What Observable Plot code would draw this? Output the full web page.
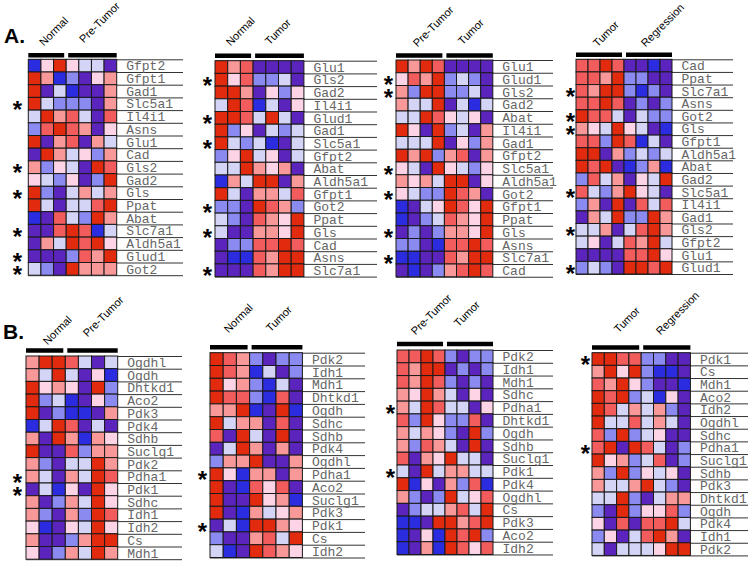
<!DOCTYPE html>
<html><head><meta charset="utf-8">
<script src="https://cdn.jsdelivr.net/npm/d3@7"></script>
<script src="https://cdn.jsdelivr.net/npm/@observablehq/plot@0.6"></script>
<style>
html,body{margin:0;padding:0;background:#fff;}
#fig{position:relative;width:750px;height:561px;overflow:hidden;background:#fff;}
.panel{position:absolute;}
.tag{position:absolute;font:bold 21px "Liberation Sans",Arial,sans-serif;line-height:21px;color:#000;}
</style></head>
<body>
<div id="fig">
  <div class="tag" style="left:4px;top:25px">A.</div>
  <div class="tag" style="left:3px;top:321px">B.</div>
</div>
<script>
// colour levels: -4 blue, -3 purple, -2 periwinkle, -1 lavender, 1 pink, 2 salmon, 3 coral, 4 red
const levels = [-4, -3, -2, -1, 1, 2, 3, 4];
const palette = ["#2b2be0", "#5b25bd", "#8a8af0", "#d4d4f6", "#fcd4e6", "#f99898", "#f25c5c", "#e12a0e"];

// ---------- Panel A1: Normal vs Pre-Tumor ----------
const a1Groups = ["Normal", "Pre-Tumor"];
const a1Split = 3;
const a1Genes = ["Gfpt2","Gfpt1","Gad1","Slc5a1","Il4i1","Asns","Glu1","Cad","Gls2","Gad2","Gls","Ppat","Abat","Slc7a1","Aldh5a1","Glud1","Got2"];
const a1Stars = ["Slc5a1","Gls2","Gls","Slc7a1","Glud1","Got2"];
const a1Values = [
  [-4,1,4,1,-1,-1,-3],
  [4,2,-4,-2,-3,1,2],
  [4,-3,-1,-4,-3,-3,2],
  [4,-1,-2,-2,-2,-3,2],
  [-1,4,2,3,-1,-3,3],
  [-2,3,4,3,2,-3,1],
  [4,-3,2,3,-3,2,-1],
  [-3,4,2,-1,1,-2,2],
  [2,-2,1,-1,-3,4,3],
  [1,-1,-2,1,-3,-2,4],
  [4,-2,-3,-1,2,-1,2],
  [4,-1,-3,-1,-1,3,4],
  [-4,-3,3,-1,-2,4,2],
  [-3,-3,3,4,3,-4,-1],
  [-3,2,-1,4,3,4,1],
  [-3,-3,-3,-2,3,2,4],
  [-1,-2,-3,4,2,2,2]
];

// ---------- Panel A2: Normal vs Tumor ----------
const a2Groups = ["Normal", "Tumor"];
const a2Split = 3;
const a2Genes = ["Glu1","Gls2","Gad2","Il4i1","Glud1","Gad1","Slc5a1","Gfpt2","Abat","Aldh5a1","Gfpt1","Got2","Ppat","Gls","Cad","Asns","Slc7a1"];
const a2Stars = ["Gls2","Glud1","Slc5a1","Got2","Gls","Slc7a1"];
const a2Values = [
  [4,2,3,-3,-3,-3,-3],
  [4,1,3,-2,-2,-1,-3],
  [4,4,2,-3,1,-2,1],
  [-1,4,3,-4,-1,-3,1],
  [4,4,3,-1,4,-1,-3],
  [4,-2,1,-3,-1,-2,-1],
  [4,-1,-2,-1,-4,-3,-1],
  [-2,1,4,-1,1,-3,-1],
  [-1,-1,4,2,1,2,-3],
  [-4,2,-1,4,4,-3,2],
  [4,-1,-3,2,2,-1,3],
  [-2,-2,-3,4,3,2,-2],
  [-1,-2,-3,3,2,1,4],
  [-1,-3,-3,2,2,1,4],
  [-3,-2,-2,3,3,4,3],
  [-3,-4,-4,3,2,4,4],
  [-3,-3,-3,3,2,4,4]
];

// ---------- Panel A3: Pre-Tumor vs Tumor ----------
const a3Groups = ["Pre-Tumor", "Tumor"];
const a3Split = 4;
const a3Genes = ["Glu1","Glud1","Gls2","Gad2","Abat","Il4i1","Gad1","Gfpt2","Slc5a1","Aldh5a1","Got2","Gfpt1","Ppat","Gls","Asns","Slc7a1","Cad"];
const a3Stars = ["Glud1","Gls2","Slc5a1","Got2","Gls","Slc7a1"];
const a3Values = [
  [4,2,4,3,-3,-3,-3,-3],
  [1,3,2,4,-2,-1,-2,-3],
  [2,-2,4,4,-2,-2,-1,-3],
  [2,-1,-1,4,-3,-1,-4,-1],
  [-1,-1,4,3,1,-1,1,-3],
  [4,1,-3,4,-2,-1,-3,2],
  [-1,-1,-1,4,-3,1,-2,2],
  [4,2,4,-2,2,3,-3,2],
  [1,-1,-3,4,1,-1,-2,1],
  [2,1,2,-1,4,4,-3,1],
  [1,-1,-2,-2,4,3,2,-3],
  [-4,-3,-1,1,4,3,1,4],
  [-4,-3,-2,-1,3,2,1,4],
  [-3,-2,-3,-2,2,2,1,4],
  [-2,-2,-3,-4,3,3,4,3],
  [-4,-4,-3,-3,3,2,4,4],
  [-3,-4,-3,-2,2,3,4,3]
];

// ---------- Panel A4: Tumor vs Regression ----------
const a4Groups = ["Tumor", "Regression"];
const a4Split = 4;
const a4Genes = ["Cad","Ppat","Slc7a1","Asns","Got2","Gls","Gfpt1","Aldh5a1","Abat","Gad2","Slc5a1","Il4i1","Gad1","Gls2","Gfpt2","Glu1","Glud1"];
const a4Stars = ["Slc7a1","Got2","Gls","Slc5a1","Gls2","Glud1"];
const a4Values = [
  [3,3,4,3,-3,-3,-4,-3],
  [3,3,2,4,-2,-2,-3,-3],
  [3,2,4,4,-2,-4,-2,-3],
  [3,3,4,3,-3,-2,-3,-2],
  [4,3,3,-1,-3,-1,-2,-2],
  [2,1,-1,4,1,-1,-3,-4],
  [3,3,-2,4,3,-4,-1,-3],
  [4,4,-3,2,-2,-1,-2,-1],
  [4,3,4,-3,-4,-2,2,-4],
  [-2,3,-1,2,-3,1,-1,4],
  [3,-1,-2,2,4,1,-1,-3],
  [-2,2,-3,4,-3,3,-1,3],
  [-3,2,-1,4,-2,-2,4,2],
  [-1,-1,2,-3,-1,3,4,2],
  [-1,1,-3,-1,3,2,4,-1],
  [-3,-3,-3,-3,3,3,4,1],
  [-2,-1,-2,-3,4,4,3,4]
];

// ---------- Panel B1: Normal vs Pre-Tumor ----------
const b1Groups = ["Normal", "Pre-Tumor"];
const b1Split = 3;
const b1Genes = ["Ogdhl","Ogdh","Dhtkd1","Aco2","Pdk3","Pdk4","Sdhb","Suclg1","Pdk2","Pdha1","Pdk1","Sdhc","Idh1","Idh2","Cs","Mdh1"];
const b1Stars = ["Pdha1","Pdk1"];
const b1Values = [
  [2,4,4,3,-1,-3,-1],
  [2,-1,4,-1,-3,1,-4],
  [4,1,2,1,-3,4,-2],
  [4,-2,-1,-4,-3,1,-2],
  [4,-3,-2,-4,-4,-3,2],
  [-4,-1,4,3,-3,-1,-3],
  [2,-3,4,2,-4,2,1],
  [4,-3,-3,3,-2,2,2],
  [2,-2,-3,-1,-1,4,2],
  [2,-1,-3,2,-1,4,3],
  [-3,-1,-4,1,-3,4,1],
  [2,-3,-2,2,-1,4,1],
  [2,-2,-3,2,-2,4,3],
  [1,-4,-3,1,-1,4,1],
  [2,-3,-3,-2,2,4,4],
  [1,-3,-2,2,-1,4,2]
];

// ---------- Panel B2: Normal vs Tumor ----------
const b2Groups = ["Normal", "Tumor"];
const b2Split = 3;
const b2Genes = ["Pdk2","Idh1","Mdh1","Dhtkd1","Ogdh","Sdhc","Sdhb","Pdk4","Ogdhl","Pdha1","Aco2","Suclg1","Pdk3","Pdk1","Cs","Idh2"];
const b2Stars = ["Pdha1","Pdk1"];
const b2Values = [
  [4,3,2,-2,-3,-2,-2],
  [4,3,2,-4,-1,-3,-2],
  [4,1,2,-2,-4,-1,-3],
  [4,3,3,-2,-4,3,-3],
  [2,2,4,-4,-3,4,-4],
  [4,-1,2,2,-3,3,-3],
  [3,-3,4,-1,-3,4,-3],
  [-3,-1,4,2,-3,2,-3],
  [-2,2,2,4,-3,-3,2],
  [4,1,-4,2,2,-3,2],
  [4,-3,-4,3,1,3,-3],
  [4,-3,-3,4,1,2,-4],
  [4,-3,-4,2,-1,1,2],
  [-3,-1,-4,4,4,2,1],
  [-2,-3,-3,2,3,-1,4],
  [-1,-4,-3,4,3,2,1]
];

// ---------- Panel B3: Pre-Tumor vs Tumor ----------
const b3Groups = ["Pre-Tumor", "Tumor"];
const b3Split = 4;
const b3Genes = ["Pdk2","Idh1","Mdh1","Sdhc","Pdha1","Dhtkd1","Ogdh","Sdhb","Suclg1","Pdk1","Pdk4","Ogdhl","Cs","Pdk3","Aco2","Idh2"];
const b3Stars = ["Pdha1","Pdk1"];
const b3Values = [
  [3,3,4,3,-2,-3,-2,-2],
  [3,2,4,4,-3,-2,-3,-2],
  [3,2,4,3,-2,-3,-2,-3],
  [2,1,4,2,-1,-3,1,-3],
  [2,-1,4,3,-1,-1,-3,1],
  [3,-2,4,1,-2,-2,3,-3],
  [2,-1,2,1,-2,-3,4,-2],
  [2,-2,3,2,-1,-3,4,-3],
  [3,-3,2,1,4,-1,-1,-3],
  [-1,-3,4,-1,2,2,-1,-1],
  [4,-4,1,-3,2,-2,3,-4],
  [2,-2,-3,-2,4,-1,1,3],
  [-3,-2,-1,-1,2,3,-1,4],
  [-4,-4,-3,4,4,2,3,4],
  [-4,-3,1,-4,4,3,4,-2],
  [-4,-3,2,-4,4,3,1,3]
];

// ---------- Panel B4: Tumor vs Regression ----------
const b4Groups = ["Tumor", "Regression"];
const b4Split = 4;
const b4Genes = ["Pdk1","Cs","Mdh1","Aco2","Idh2","Ogdhl","Sdhc","Pdha1","Suclg1","Sdhb","Pdk3","Dhtkd1","Ogdh","Pdk4","Idh1","Pdk2"];
const b4Stars = ["Pdk1","Pdha1"];
const b4Values = [
  [4,4,3,3,-2,-2,-3,-3],
  [2,4,1,4,-2,-4,-4,-3],
  [3,2,4,1,-2,-3,-3,-4],
  [4,3,4,-2,-1,-4,1,-3],
  [4,3,-1,2,-1,2,-2,-3],
  [4,-1,-1,3,-1,2,-1,-3],
  [3,-2,4,-2,-1,1,-3,-3],
  [3,4,-3,4,3,-1,-3,-2],
  [4,1,2,-2,-1,3,-3,-2],
  [2,-2,4,-2,1,-1,1,-3],
  [2,-1,-1,2,4,-1,-2,-3],
  [-1,-1,4,-2,-3,-1,2,2],
  [-2,-3,4,-2,1,1,3,-2],
  [1,-3,3,-3,3,3,4,-1],
  [-2,1,-3,-1,3,4,2,-3],
  [-1,-3,-1,-1,-1,1,4,4]
];

// ---------- layout (pixels) ----------
const layouts = [
  {sx:0,   sy:20,  sw:190, sh:265, left:28.3, top:59.3, cw:12.63, rh:12.7,  lineEnd:183, ast:17,  barDy:-4.5, lab:[[15,-13.3],[55,-16.3]]},
  {sx:190, sy:20,  sw:190, sh:265, left:215,  top:60.7, cw:12.7,  rh:12.7,  lineEnd:377, ast:207, barDy:-5.5, lab:[[15,-14.7],[54,-15.7]]},
  {sx:380, sy:20,  sw:180, sh:265, left:396,  top:60,   cw:12.1,  rh:12.75, lineEnd:553, ast:388, barDy:-5,   lab:[[21,-13],[66,-15]]},
  {sx:560, sy:20,  sw:190, sh:265, left:576,  top:59.3, cw:12.0,  rh:12.63, lineEnd:733, ast:570, barDy:-5,   lab:[[21,-12.3],[69,-12.3]]},
  {sx:0,   sy:285, sw:190, sh:276, left:26,   top:356,  cw:13.1,  rh:12.7,  lineEnd:182, ast:17,  barDy:-6,   lab:[[21,-11],[61,-19]]},
  {sx:190, sy:285, sw:190, sh:276, left:210,  top:352.7,cw:13.2,  rh:12.8,  lineEnd:365, ast:202, barDy:-6,   lab:[[18,-19.7],[60,-20.7]]},
  {sx:380, sy:285, sw:180, sh:276, left:397,  top:350,  cw:12.0,  rh:12.78, lineEnd:553, ast:390, barDy:-6.5, lab:[[18,-15],[61,-23]]},
  {sx:560, sy:285, sw:190, sh:276, left:592,  top:352.7,cw:12.3,  rh:12.67, lineEnd:748, ast:585, barDy:-5.7, lab:[[26,-19.7],[68,-17.7]]}
];

const panels = [
  {genes:a1Genes, values:a1Values, groups:a1Groups, split:a1Split, stars:a1Stars},
  {genes:a2Genes, values:a2Values, groups:a2Groups, split:a2Split, stars:a2Stars},
  {genes:a3Genes, values:a3Values, groups:a3Groups, split:a3Split, stars:a3Stars},
  {genes:a4Genes, values:a4Values, groups:a4Groups, split:a4Split, stars:a4Stars},
  {genes:b1Genes, values:b1Values, groups:b1Groups, split:b1Split, stars:b1Stars},
  {genes:b2Genes, values:b2Values, groups:b2Groups, split:b2Split, stars:b2Stars},
  {genes:b3Genes, values:b3Values, groups:b3Groups, split:b3Split, stars:b3Stars},
  {genes:b4Genes, values:b4Values, groups:b4Groups, split:b4Split, stars:b4Stars}
];

function drawPanel(p, L) {
  const n = p.values[0].length, m = p.genes.length;
  const cells = p.values.flatMap((row, r) => row.map((v, c) => ({r, c, v})));
  const bounds = d3.range(m + 1);
  const ext = (L.lineEnd - L.left) / L.cw;
  const gap = 2 / L.cw;
  const x0 = L.left - L.sx, y0 = L.top - L.sy;
  const bars = [
    {a: 0, b: p.split - gap, name: p.groups[0]},
    {a: p.split + gap, b: n, name: p.groups[1]}
  ];
  const starRows = p.genes.map((g, i) => ({g, i})).filter(d => p.stars.includes(d.g));
  const labelMarks = bars.map((g, k) => Plot.text([g], {
    x: 0, y: 0, text: "name", dx: L.lab[k][0], dy: L.lab[k][1],
    rotate: -45, textAnchor: "start", lineAnchor: "bottom",
    fontFamily: "Liberation Sans, Arial, sans-serif", fontSize: 11, fill: "#000"
  }));
  return Plot.plot({
    width: L.sw, height: L.sh,
    style: {overflow: "visible", background: "transparent"},
    x: {domain: [0, n], range: [x0, x0 + n * L.cw], axis: null},
    y: {domain: [0, m], range: [y0, y0 + m * L.rh], axis: null},
    color: {type: "ordinal", domain: levels, range: palette},
    marks: [
      Plot.ruleY(bounds, {y: d => d, x1: 0, x2: ext, stroke: "#333", strokeWidth: 1}),
      Plot.rect(cells, {x1: "c", x2: d => d.c + 1, y1: "r", y2: d => d.r + 1, fill: "v", stroke: "#1a1a1a", strokeWidth: 1}),
      Plot.text(p.genes, {x: n, y: (d, i) => i + 0.5, text: d => d, dx: 9, textAnchor: "start",
        fontFamily: "Liberation Mono, Courier New, monospace", fontSize: 13, fill: "#666"}),
      Plot.text(starRows, {x: 0, y: d => d.i + 0.5, text: () => "*", dx: L.ast - L.left, dy: 6,
        fontFamily: "Liberation Sans, Arial, sans-serif", fontSize: 24, fontWeight: "bold", fill: "#000"}),
      Plot.ruleY(bars, {y: 0, x1: "a", x2: "b", dy: L.barDy, stroke: "#000", strokeWidth: 4.5}),
      ...labelMarks
    ]
  });
}

const fig = document.getElementById("fig");
panels.forEach((p, k) => {
  const L = layouts[k];
  const svg = drawPanel(p, L);
  const wrap = document.createElement("div");
  wrap.className = "panel";
  wrap.style.left = L.sx + "px";
  wrap.style.top = L.sy + "px";
  wrap.appendChild(svg);
  fig.appendChild(wrap);
});
</script>
</body></html>
